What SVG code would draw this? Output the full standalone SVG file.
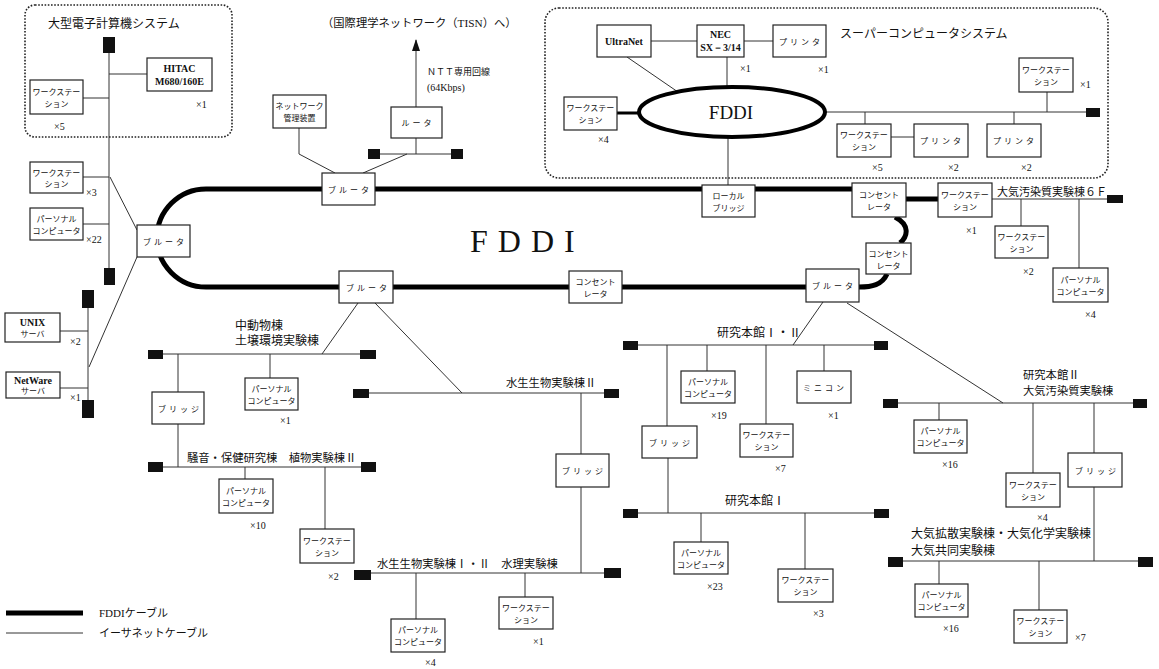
<svg xmlns="http://www.w3.org/2000/svg" width="1159" height="669" viewBox="0 0 1159 669">
<defs>
<style>
.bx{fill:#fff;stroke:#222;stroke-width:1.2}
.eth{stroke:#333;stroke-width:1;fill:none}
.fd{stroke:#000;stroke-width:5;fill:none}
.tm{fill:#111}
.dot{fill:none;stroke:#222;stroke-width:1.6;stroke-dasharray:1.6 1.6}
text{font-family:"Noto Sans CJK JP",sans-serif;fill:#111}
.sf{font-family:"Liberation Serif",serif}
.b{font-size:8px;text-anchor:middle}
.bs{font-size:8px;text-anchor:middle;letter-spacing:3px}
.c{font-family:"Liberation Serif",serif;font-size:10px}
.l{font-size:12px}
.m{font-size:11.3px}
.r{font-family:"Liberation Serif",serif;font-weight:bold;font-size:10px;text-anchor:middle}
</style>
<marker id="ah" markerWidth="12" markerHeight="8" refX="11" refY="4" orient="auto" markerUnits="userSpaceOnUse">
<path d="M0,0 L12,4 L0,8 Z" fill="#111"/>
</marker>
</defs>
<rect width="1159" height="669" fill="#fff"/>

<g id="connectors">
<path class="fd" d="M206,189 H852 M906,199 H938 M895,217 C910,225 908,236 900,243 M887,274 C882,285 872,287 859,287 M206,287 H806 M206,189 A49,49 0 0 0 206,287"/>
<path d="M617,113 H639" stroke="#000" stroke-width="3"/>
<path class="eth" d="M109,53 V268 M109,74 H147 M83,98 H109 M83,177 H109 M83,224 H109 M110,177 L137,230 M137,257 L89,367 M88,308 V400 M60,331 H88 M60,388 H88"/>
<path class="eth" d="M299,128 V154 L335,173 M363,173 L407,154 M380,154 H451 M416,154 V138"/>
<path class="eth" d="M416,107 V40" marker-end="url(#ah)"/>
<path class="eth" d="M651,41 H697 M744,41 H773 M727,57 V87 M627,57 L678,92 M825,112 H1086 M1047,92 V112 M865,112 V124 M891,137 H914 M1014,112 V124 M728,137 V185"/>
<path class="eth" d="M992,199 H1107 M1021,199 V226 M1079,199 V268"/>
<path class="eth" d="M823,302 L793,345 M847,303 L1003,403 M638,345 H874 M667,345 V426 M707,345 V371 M766,345 V424 M824,345 V371 M668,458 V513 M638,513 H874 M701,513 V542 M805,513 V569 M898,403 H1133 M939,403 V420 M1033,403 V473 M1094,403 V453 M1094,487 V561 M903,561 H1138 M939,561 V584 M1039,561 V610"/>
<path class="eth" d="M358,303 L322,354 M375,303 L462,393 M163,354 H360 M178,354 V392 M178,424 V467 M270,354 V378 M163,467 H361 M245,467 V479 M325,467 V529 M369,393 H604 M581,393 V454 M581,487 V573 M371,573 H604 M416,573 V619 M525,573 V597"/>
</g>

<g id="terminators">
<rect class="tm" x="103" y="37" width="12" height="16"/>
<rect class="tm" x="104" y="268" width="11" height="17"/>
<rect class="tm" x="82" y="290" width="12" height="18"/>
<rect class="tm" x="82" y="400" width="12" height="18"/>
<rect class="tm" x="368" y="149" width="12" height="10"/>
<rect class="tm" x="451" y="149" width="12" height="10"/>
<rect class="tm" x="1086" y="108" width="14" height="9"/>
<rect class="tm" x="1107" y="195" width="16" height="8"/>
<rect class="tm" x="623" y="341" width="15" height="9"/>
<rect class="tm" x="874" y="341" width="14" height="9"/>
<rect class="tm" x="623" y="509" width="15" height="9"/>
<rect class="tm" x="874" y="509" width="15" height="9"/>
<rect class="tm" x="883" y="399" width="15" height="9"/>
<rect class="tm" x="1133" y="399" width="14" height="9"/>
<rect class="tm" x="888" y="557" width="15" height="10"/>
<rect class="tm" x="1138" y="557" width="15" height="10"/>
<rect class="tm" x="148" y="350" width="15" height="9"/>
<rect class="tm" x="360" y="350" width="16" height="9"/>
<rect class="tm" x="148" y="462" width="15" height="10"/>
<rect class="tm" x="361" y="462" width="15" height="10"/>
<rect class="tm" x="353" y="389" width="16" height="9"/>
<rect class="tm" x="604" y="389" width="15" height="9"/>
<rect class="tm" x="354" y="570" width="17" height="10"/>
<rect class="tm" x="604" y="568" width="17" height="10"/>
</g>

<g id="large-system">
<rect class="dot" x="25" y="5" width="207" height="132" rx="10"/>
<text class="l" x="48" y="28">大型電子計算機システム</text>
</g>
<g id="hitac"><rect class="bx" x="147" y="58" width="65" height="33"/><text class="r" x="179.5" y="72">HITAC</text><text class="r" x="179.5" y="85">M680/160E</text><text class="c" x="196" y="108">×1</text></g>
<g id="ws-l1"><rect class="bx" x="30" y="80" width="53" height="34"/><text class="b" x="56.5" y="95">ワークステー</text><text class="b" x="56.5" y="107">ション</text><text class="c" x="54" y="130">×5</text></g>
<g id="ws-l2"><rect class="bx" x="30" y="162" width="53" height="31"/><text class="b" x="56.5" y="176">ワークステー</text><text class="b" x="56.5" y="187">ション</text><text class="c" x="86" y="196">×3</text></g>
<g id="pc-l1"><rect class="bx" x="30" y="208" width="53" height="32"/><text class="b" x="56.5" y="222">パーソナル</text><text class="b" x="56.5" y="234">コンピュータ</text><text class="c" x="86" y="243">×22</text></g>
<g id="router-l"><rect class="bx" x="137" y="225" width="53" height="32"/><text class="bs" x="165" y="245">ブルータ</text></g>
<g id="unix"><rect class="bx" x="5" y="313" width="55" height="29"/><text class="r" x="32.5" y="326">UNIX</text><text class="b" x="32.5" y="337">サーバ</text><text class="c" x="70" y="345">×2</text></g>
<g id="netware"><rect class="bx" x="6" y="372" width="54" height="26"/><text class="r" x="33" y="384">NetWare</text><text class="b" x="33" y="394">サーバ</text><text class="c" x="70" y="401">×1</text></g>

<g id="netmgmt"><rect class="bx" x="273" y="95" width="53" height="33"/><text class="b" x="299.5" y="109">ネットワーク</text><text class="b" x="299.5" y="121">管理装置</text></g>
<g id="router-t"><rect class="bx" x="322" y="173" width="53" height="32"/><text class="bs" x="350" y="193">ブルータ</text></g>
<g id="router-ntt"><rect class="bx" x="391" y="107" width="51" height="31"/><text class="bs" x="418" y="126">ルータ</text></g>
<g id="tisn">
<text class="m" x="322" y="27">（国際理学ネットワーク（<tspan class="sf">TISN</tspan>）へ）</text>
<text x="427" y="75" font-size="9">ＮＴＴ専用回線</text>
<text class="c" x="427" y="91" font-size="9">(64Kbps)</text>
</g>
<g id="local-bridge"><rect class="bx" x="702" y="185" width="53" height="32"/><text class="b" x="728.5" y="199">ローカル</text><text class="b" x="728.5" y="211">ブリッジ</text></g>

<g id="super-system">
<rect class="dot" x="545" y="8" width="563" height="170" rx="14"/>
<text class="l" x="840" y="38">スーパーコンピュータシステム</text>
</g>
<g id="ultranet"><rect class="bx" x="597" y="25" width="54" height="32"/><text class="r" x="624" y="45" font-size="9">UltraNet</text></g>
<g id="nec"><rect class="bx" x="697" y="25" width="47" height="32"/><text class="r" x="720.5" y="38">NEC</text><text class="r" x="720.5" y="51">SX－3/14</text><text class="c" x="740" y="72">×1</text></g>
<g id="printer-s1"><rect class="bx" x="773" y="25" width="53" height="32"/><text class="bs" x="801" y="45">プリンタ</text><text class="c" x="818" y="73">×1</text></g>
<g id="fddi-s"><ellipse cx="732" cy="112" rx="93" ry="25" fill="#fff" stroke="#000" stroke-width="4"/><text class="sf" x="731" y="119" font-size="19" text-anchor="middle">FDDI</text></g>
<g id="ws-s1"><rect class="bx" x="564" y="97" width="53" height="33"/><text class="b" x="590.5" y="111">ワークステー</text><text class="b" x="590.5" y="123">ション</text><text class="c" x="598" y="143">×4</text></g>
<g id="ws-s2"><rect class="bx" x="1019" y="58" width="54" height="34"/><text class="b" x="1046" y="73">ワークステー</text><text class="b" x="1046" y="85">ション</text><text class="c" x="1080" y="88">×1</text></g>
<g id="ws-s3"><rect class="bx" x="837" y="124" width="54" height="33"/><text class="b" x="864" y="138">ワークステー</text><text class="b" x="864" y="150">ション</text><text class="c" x="872" y="171">×5</text></g>
<g id="printer-s2"><rect class="bx" x="914" y="124" width="54" height="33"/><text class="bs" x="942" y="144">プリンタ</text><text class="c" x="948" y="171">×2</text></g>
<g id="printer-s3"><rect class="bx" x="987" y="124" width="54" height="33"/><text class="bs" x="1015" y="144">プリンタ</text><text class="c" x="1021" y="171">×2</text></g>

<g id="conc-tr"><rect class="bx" x="852" y="183" width="54" height="34"/><text class="b" x="879" y="198">コンセント</text><text class="b" x="879" y="210">レータ</text></g>
<g id="ws-r1"><rect class="bx" x="938" y="183" width="54" height="34"/><text class="b" x="965" y="198">ワークステー</text><text class="b" x="965" y="210">ション</text><text class="c" x="966" y="234">×1</text></g>
<text x="997" y="196" font-size="11">大気汚染質実験棟６Ｆ</text>
<g id="ws-r2"><rect class="bx" x="995" y="226" width="53" height="32"/><text class="b" x="1021.5" y="240">ワークステー</text><text class="b" x="1021.5" y="252">ション</text><text class="c" x="1023" y="275">×2</text></g>
<g id="pc-r1"><rect class="bx" x="1053" y="268" width="55" height="34"/><text class="b" x="1080.5" y="283">パーソナル</text><text class="b" x="1080.5" y="295">コンピュータ</text><text class="c" x="1085" y="318">×4</text></g>
<g id="conc-r2"><rect class="bx" x="866" y="243" width="45" height="31"/><text class="b" x="888.5" y="257">コンセント</text><text class="b" x="888.5" y="269">レータ</text></g>
<g id="router-r"><rect class="bx" x="806" y="269" width="53" height="33"/><text class="bs" x="834" y="289">ブルータ</text></g>

<g id="router-m"><rect class="bx" x="339" y="271" width="54" height="32"/><text class="bs" x="368" y="291">ブルータ</text></g>
<g id="conc-m"><rect class="bx" x="569" y="271" width="53" height="32"/><text class="b" x="595.5" y="285">コンセント</text><text class="b" x="595.5" y="297">レータ</text></g>
<text class="sf" x="470" y="252" font-size="32" letter-spacing="10">FDDI</text>

<text class="l" x="717" y="337">研究本館Ⅰ・Ⅱ</text>
<g id="pc-k1"><rect class="bx" x="681" y="371" width="54" height="32"/><text class="b" x="708" y="385">パーソナル</text><text class="b" x="708" y="397">コンピュータ</text><text class="c" x="711" y="419">×19</text></g>
<g id="ws-k1"><rect class="bx" x="740" y="424" width="53" height="33"/><text class="b" x="766.5" y="438">ワークステー</text><text class="b" x="766.5" y="450">ション</text><text class="c" x="775" y="472">×7</text></g>
<g id="mini"><rect class="bx" x="797" y="371" width="54" height="32"/><text class="bs" x="825" y="391">ミニコン</text><text class="c" x="828" y="419">×1</text></g>
<g id="bridge-k"><rect class="bx" x="642" y="426" width="55" height="32"/><text class="bs" x="671" y="446">ブリッジ</text></g>
<text class="l" x="725" y="505">研究本館Ⅰ</text>
<g id="pc-k2"><rect class="bx" x="674" y="542" width="54" height="32"/><text class="b" x="701" y="556">パーソナル</text><text class="b" x="701" y="568">コンピュータ</text><text class="c" x="707" y="590">×23</text></g>
<g id="ws-k2"><rect class="bx" x="778" y="569" width="55" height="33"/><text class="b" x="805.5" y="583">ワークステー</text><text class="b" x="805.5" y="595">ション</text><text class="c" x="813" y="617">×3</text></g>

<text class="m" x="1023" y="379">研究本館Ⅱ</text>
<text class="m" x="1023" y="395">大気汚染質実験棟</text>
<g id="pc-k3"><rect class="bx" x="914" y="420" width="53" height="33"/><text class="b" x="940.5" y="434">パーソナル</text><text class="b" x="940.5" y="446">コンピュータ</text><text class="c" x="942" y="468">×16</text></g>
<g id="ws-k3"><rect class="bx" x="1006" y="473" width="54" height="34"/><text class="b" x="1033" y="488">ワークステー</text><text class="b" x="1033" y="500">ション</text><text class="c" x="1037" y="521">×4</text></g>
<g id="bridge-k2"><rect class="bx" x="1068" y="453" width="54" height="34"/><text class="bs" x="1097" y="474">ブリッジ</text></g>
<text class="l" x="911" y="538">大気拡散実験棟・大気化学実験棟</text>
<text class="l" x="911" y="555">大気共同実験棟</text>
<g id="pc-k4"><rect class="bx" x="915" y="584" width="53" height="33"/><text class="b" x="941.5" y="598">パーソナル</text><text class="b" x="941.5" y="610">コンピュータ</text><text class="c" x="943" y="632">×16</text></g>
<g id="ws-k4"><rect class="bx" x="1014" y="610" width="53" height="33"/><text class="b" x="1040.5" y="624">ワークステー</text><text class="b" x="1040.5" y="636">ション</text><text class="c" x="1075" y="641">×7</text></g>

<text class="l" x="235" y="330">中動物棟</text>
<text class="l" x="235" y="345">土壌環境実験棟</text>
<g id="pc-m1"><rect class="bx" x="245" y="378" width="53" height="32"/><text class="b" x="271.5" y="392">パーソナル</text><text class="b" x="271.5" y="404">コンピュータ</text><text class="c" x="280" y="424">×1</text></g>
<g id="bridge-m1"><rect class="bx" x="152" y="392" width="52" height="32"/><text class="bs" x="180" y="412">ブリッジ</text></g>
<text class="m" x="187" y="462">騒音・保健研究棟　植物実験棟Ⅱ</text>
<g id="pc-m2"><rect class="bx" x="219" y="479" width="54" height="34"/><text class="b" x="246" y="494">パーソナル</text><text class="b" x="246" y="506">コンピュータ</text><text class="c" x="250" y="529">×10</text></g>
<g id="ws-m2"><rect class="bx" x="300" y="529" width="54" height="34"/><text class="b" x="327" y="544">ワークステー</text><text class="b" x="327" y="556">ション</text><text class="c" x="328" y="580">×2</text></g>
<text class="m" x="506" y="387">水生生物実験棟Ⅱ</text>
<g id="bridge-m2"><rect class="bx" x="556" y="454" width="53" height="33"/><text class="bs" x="584" y="474">ブリッジ</text></g>
<text class="m" x="377" y="568">水生生物実験棟Ⅰ・Ⅱ　水理実験棟</text>
<g id="pc-m3"><rect class="bx" x="391" y="619" width="54" height="33"/><text class="b" x="418" y="633">パーソナル</text><text class="b" x="418" y="645">コンピュータ</text><text class="c" x="425" y="666">×4</text></g>
<g id="ws-m3"><rect class="bx" x="499" y="597" width="54" height="32"/><text class="b" x="526" y="611">ワークステー</text><text class="b" x="526" y="623">ション</text><text class="c" x="533" y="645">×1</text></g>

<g id="legend">
<path d="M6,613 H83" stroke="#000" stroke-width="5"/>
<path d="M6,633 H83" stroke="#333" stroke-width="1"/>
<text x="99" y="617" font-size="11"><tspan class="sf">FDDI</tspan>ケーブル</text>
<text x="99" y="637" font-size="11">イーサネットケーブル</text>
</g>
</svg>
